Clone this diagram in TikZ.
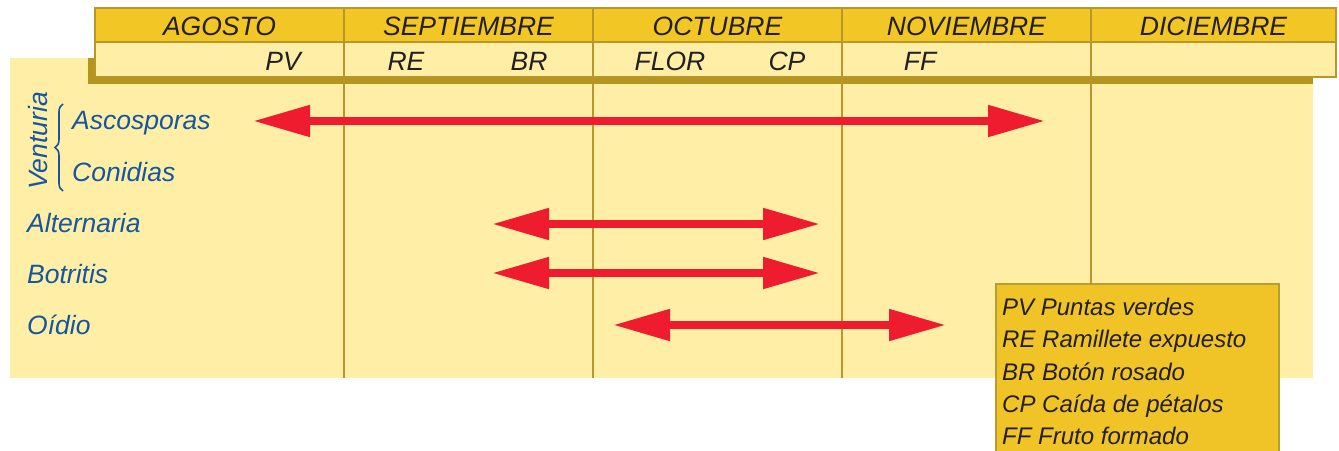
\documentclass[tikz,border=0pt]{standalone}
\usepackage{fontspec}
\setmainfont{Liberation Sans}
\usetikzlibrary{arrows.meta,decorations.pathreplacing}
\definecolor{panel}{HTML}{FEEEA6}
\definecolor{hdr}{HTML}{F1C625}
\definecolor{olive}{HTML}{B5951E}
\definecolor{gridc}{HTML}{B8962A}
\definecolor{txtblue}{HTML}{1656A0}
\definecolor{txtdark}{HTML}{231F20}
\definecolor{arr}{HTML}{EE1C2E}
\definecolor{legf}{HTML}{F0C426}
\definecolor{legb}{HTML}{B89E2E}
\tikzset{
  month/.style={font=\fontsize{26.5}{30}\selectfont\itshape, text=txtdark, inner sep=0pt},
  stage/.style={font=\fontsize{26.5}{30}\selectfont\itshape, text=txtdark, inner sep=0pt},
  disease/.style={font=\fontsize{26.5}{30}\selectfont\itshape, text=txtblue, inner sep=0pt, anchor=west},
  period/.style={draw=arr, line width=8pt, {Triangle[length=57pt,width=30pt]}-{Triangle[length=57pt,width=30pt]}},
  gridline/.style={draw=gridc, line width=2pt},
}
\begin{document}
\begin{tikzpicture}[x=1pt,y=-1pt]
\useasboundingbox (0,0) rectangle (1339,450);
\clip (0,0) rectangle (1339,450);
% panel
\fill[panel] (10,58) rectangle (1313,378);
% shadow
\fill[olive] (88,58) rectangle (1313,84);
% header
\fill[hdr] (95,8) rectangle (1336,42);
\fill[panel] (95,42) rectangle (1336,77);
\draw[gridline] (95,8) rectangle (1336,77);
\draw[gridline] (95,42) -- (1336,42);
% column dividers
\foreach \x in {344,593,842,1091} {
  \draw[gridline] (\x,8) -- (\x,378);
}
% months
\node[month] (ago) at (219.5,26) {AGOSTO};
\node[month] (sep) at (468.5,26) {SEPTIEMBRE};
\node[month] (oct) at (717.5,26) {OCTUBRE};
\node[month] (nov) at (966.5,26) {NOVIEMBRE};
\node[month] (dic) at (1213.5,26) {DICIEMBRE};
% stages
\node[stage] (pv) at (283,61) {PV};
\node[stage] (re) at (406,61) {RE};
\node[stage] (br) at (529,61) {BR};
\node[stage] (flor) at (670,61) {FLOR};
\node[stage] (cp) at (787,61) {CP};
\node[stage] (ff) at (920,61) {FF};
% diseases
\node[disease] (asc) at (72,123) {Ascosporas};
\node[disease] (con) at (72,172) {Conidias};
\node[disease] (alt) at (27,223) {Alternaria};
\node[disease] (bot) at (27,274) {Botritis};
\node[disease] (oid) at (27,325) {Oídio};
\node[font=\fontsize{26.5}{30}\selectfont\itshape, text=txtblue, inner sep=0pt, rotate=90] (ven) at (38,141) {Venturia};
\draw[txtblue, line width=1.6pt, decorate, decoration={brace, amplitude=8pt}] (63,191) -- (63,104);
% arrows
\coordinate (a1l) at (253,121); \coordinate (a1r) at (1045,121);
\coordinate (a2l) at (492,224); \coordinate (a2r) at (820,224);
\coordinate (a3l) at (492,273); \coordinate (a3r) at (820,273);
\coordinate (a4l) at (613,325); \coordinate (a4r) at (946,325);
\draw[period] (a1l) -- (a1r);
\draw[period] (a2l) -- (a2r);
\draw[period] (a3l) -- (a3r);
\draw[period] (a4l) -- (a4r);
% legend
\draw[fill=legf, draw=legb, line width=2pt] (996,284) rectangle (1279,470);
\node[anchor=north west, inner sep=0pt, align=left, text=txtdark,
  font=\fontsize{24}{32.3}\selectfont\itshape] (leg) at (1002,298)
  {PV Puntas verdes\\RE Ramillete expuesto\\BR Botón rosado\\CP Caída de pétalos\\FF Fruto formado};
\end{tikzpicture}
\end{document}
